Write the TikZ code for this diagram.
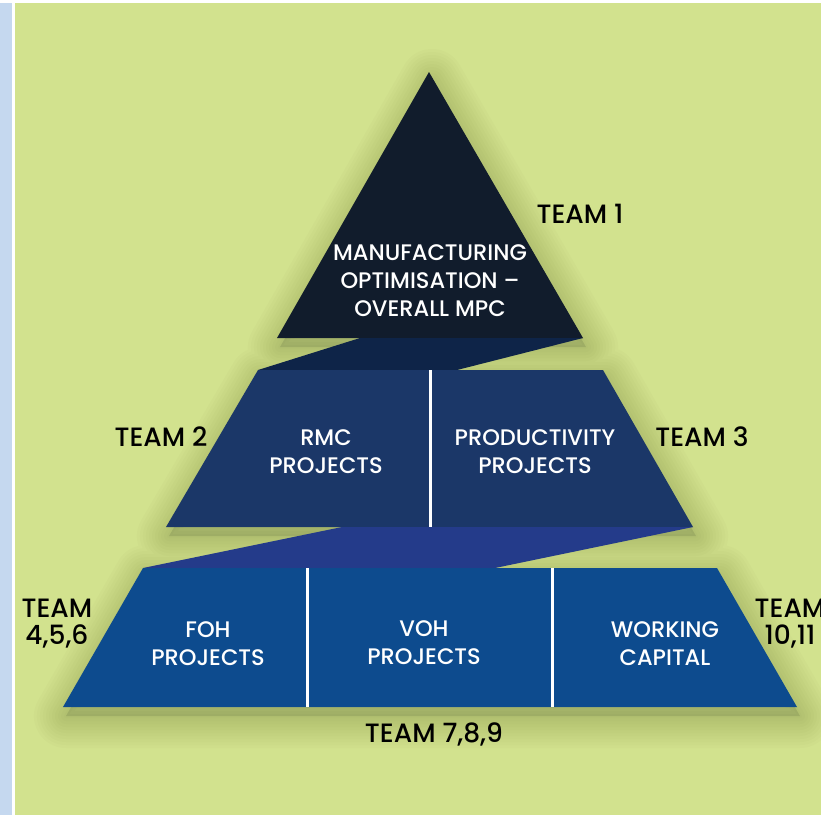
\documentclass[tikz,border=0pt]{standalone}
\usepackage{fontspec}
\setmainfont{Poppins}
\newfontfamily\labelfont{Poppins Medium}

\definecolor{bgGreen}{HTML}{D2E28E}
\definecolor{stripBlue}{HTML}{C5D8EF}
\definecolor{tierTop}{HTML}{111C2C}
\definecolor{linkOne}{HTML}{0E2448}
\definecolor{tierMid}{HTML}{1B3768}
\definecolor{linkTwo}{HTML}{243B8A}
\definecolor{tierBase}{HTML}{0D4B8E}
\definecolor{shadowOlive}{HTML}{3A4510}

\begin{document}
\begin{tikzpicture}[x=1pt,y=-1pt,
  inner/.style={text=white,font=\labelfont\fontsize{22.5}{28}\selectfont,align=center,inner sep=0pt},
  team/.style={text=black,font=\labelfont\fontsize{26.5}{27}\selectfont,align=center,inner sep=0pt},
  split/.style={draw=white,line width=3pt}]

% page background: white frame, blue side strip, green panel
\useasboundingbox (0,0) rectangle (821,815);
\fill[white] (0,0) rectangle (821,815);
\fill[stripBlue] (0,3) rectangle (12,815);
\fill[bgGreen] (15,3) rectangle (821,815);

% soft shadow: stacked faint outlines of the tiers, shifted down
\begin{scope}[yshift=-9pt,xshift=3pt]
\fill[shadowOlive,fill opacity=0.12]
    (429,72) -- (583,338) -- (277,338) -- cycle
    (258,370) -- (603,370) -- (693,527) -- (166,527) -- cycle
    (143,568) -- (717,568) -- (797,707) -- (63,707) -- cycle;
\foreach \w in {64,58,...,4}{
  \draw[shadowOlive,draw opacity=0.02,line width=\w pt,line join=round]
    (429,72) -- (583,338) -- (277,338) -- cycle
    (258,370) -- (603,370) -- (693,527) -- (166,527) -- cycle
    (143,568) -- (717,568) -- (797,707) -- (63,707) -- cycle;
}
\end{scope}

% pyramid tiers and the slanted links between them
\fill[tierTop]  (429,72) -- (583,338) -- (277,338) -- cycle;
\fill[linkOne]  (360,338) -- (583,338) -- (457,370) -- (258,370) -- cycle;
\fill[tierMid]  (258,370) -- (603,370) -- (693,527) -- (166,527) -- cycle;
\fill[linkTwo]  (342,527) -- (693,527) -- (495,568) -- (143,568) -- cycle;
\fill[tierBase] (143,568) -- (717,568) -- (797,707) -- (63,707) -- cycle;

% white dividers between the cells of a tier
\coordinate (midA) at (430,370);
\coordinate (midB) at (430,527);
\coordinate (baseA1) at (307,568);
\coordinate (baseA2) at (307,707);
\coordinate (baseB1) at (552,568);
\coordinate (baseB2) at (552,707);
\draw[split] (midA) -- (midB);
\draw[split] (baseA1) -- (baseA2);
\draw[split] (baseB1) -- (baseB2);

% cell texts
\node[inner] (apex) at (430,281) {MANUFACTURING\\OPTIMISATION –\\OVERALL MPC};
\node[inner] (rmc)  at (326,452) {RMC\\PROJECTS};
\node[inner] (prod) at (535,452) {PRODUCTIVITY\\PROJECTS};
\node[inner] (foh)  at (208,644) {FOH\\PROJECTS};
\node[inner] (voh)  at (424,643) {VOH\\PROJECTS};
\node[inner] (wcap) at (665,644) {WORKING\\CAPITAL};

% team labels
\node[team] (team1)   at (580,214) {TEAM 1};
\node[team] (team2)   at (161,437) {TEAM 2};
\node[team] (team3)   at (702,437) {TEAM 3};
\node[team] (team456) at (57,624)  {TEAM\\4,5,6};
\node[team] (team1011) at (790,624) {TEAM\\10,11};
\node[team] (team789) at (434,734) {TEAM 7,8,9};
\end{tikzpicture}
\end{document}
